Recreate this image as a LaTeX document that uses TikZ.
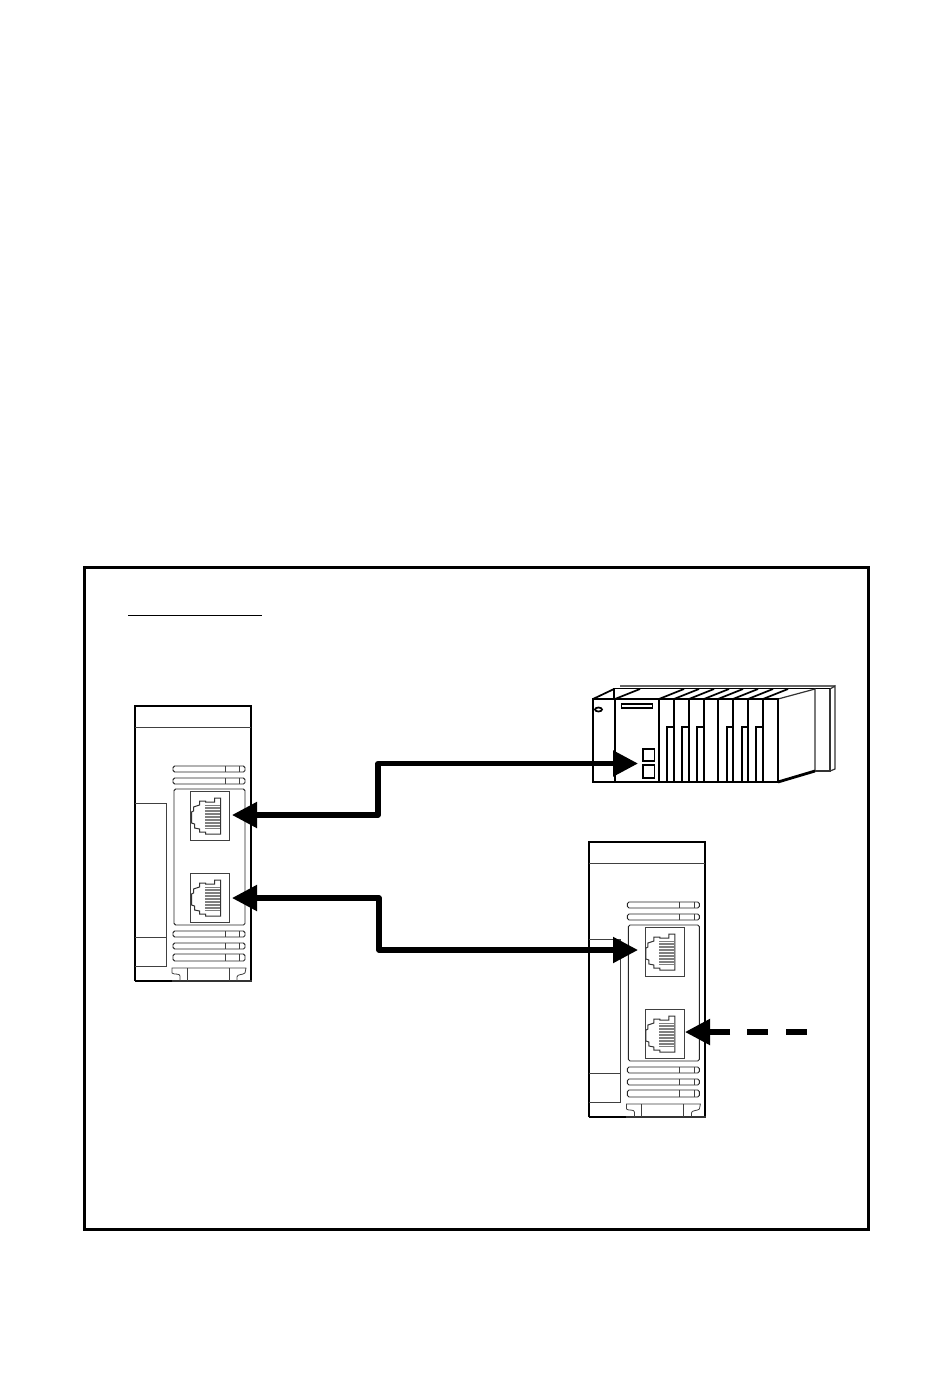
\documentclass[tikz,border=0pt]{standalone}
\usetikzlibrary{arrows.meta}
\tikzset{
  x=0.75pt,y=-0.75pt,
  frameline/.style={draw=black,line width=2.25pt},
  casing/.style={draw=black,line width=1.6pt,line join=miter},
  fineline/.style={draw=black!75,line width=0.6pt},
  slotline/.style={draw=black!85,line width=0.7pt,rounded corners=1.2pt},
  plcthick/.style={draw=black,line width=2.1pt},
  plcmid/.style={draw=black,line width=1.3pt},
  plcthin/.style={draw=black!80,line width=0.9pt},
  link/.style={draw=black,line width=3.9pt,line join=round,
    {Triangle[length=18.75pt,width=18.75pt]}-{Triangle[length=18.75pt,width=18.75pt]}},
  stublink/.style={draw=black,line width=3.9pt,-{Triangle[length=18.75pt,width=18.75pt]}},
  dashlink/.style={draw=black,line width=3.9pt},
}
% one RJ45 jack; #1 = vertical offset from the upper jack
\newcommand{\jackdraw}[1]{%
  \begin{scope}[shift={(0,#1)}]
    \draw[fineline] (190.5,791) rectangle (229.5,840);
    \draw[draw=black!80,line width=0.75pt] (220.5,798) -- (214.5,798) -- (214.5,802) -- (205.5,802) -- (205.5,801) -- (199.5,801)
      -- (199.5,805) -- (193.5,807) -- (193.5,811) -- (191.5,812) -- (191.5,823) -- (194.5,824)
      -- (194.5,828) -- (199.5,829) -- (199.5,832) -- (205.5,832) -- (205.5,834) -- (220.5,834) -- cycle;
    \fill[black!50] (204.5,805) rectangle (219.5,829);
    \foreach \yy in {806.5,809.5,812.5,815.5,818.5,821.5,824.5,827.5}
      \draw[white,line width=0.75pt] (204.5,\yy) -- (219.5,\yy);
  \end{scope}}
\newcommand{\slotdraw}[2]{%
  \draw[slotline] (173,#1) rectangle (245,#2);
  \draw[fineline] (225,#1) -- (225,#2);
  \draw[fineline] (239.5,#1) -- (239.5,#2);}
\newcommand{\moduledraw}[2]{%
  \begin{scope}[shift={(#1,#2)}]
    \draw[casing] (135,981) -- (135,706) -- (251,706) -- (251,981);
    \draw[line width=2pt,black] (135,981) -- (172,981);
    \draw[draw=black!80,line width=0.9pt] (172,981) -- (251.5,981);
    \draw[fineline] (135,727) -- (251,727);
    \slotdraw{766}{772}
    \slotdraw{778}{784}
    \draw[slotline] (174,789) rectangle (245,925);
    \draw[fineline] (135,803) -- (166,803) -- (166,966) -- (135,966);
    \draw[fineline] (135,937) -- (166,937);
    \jackdraw{0}
    \jackdraw{82}
    \slotdraw{931}{937}
    \slotdraw{943}{949}
    \slotdraw{954}{961}
    \draw[fineline] (172,973) -- (172,968) -- (246,968) -- (245,973);
    \draw[fineline] (172,973) .. controls (174,975) and (180,973) .. (180,976) -- (180,981);
    \draw[fineline] (245,973) .. controls (243,975) and (237,974) .. (237,977) -- (237,981);
    \draw[fineline] (187,968) -- (187,981);
    \draw[fineline] (229,968) -- (229,981);
  \end{scope}}
\begin{document}
\begin{tikzpicture}
\useasboundingbox (0,0) rectangle (950,1398);
\fill[white] (0,0) rectangle (950,1398);
% outer frame and heading rule
\node[frameline,draw,minimum width=587.7pt,minimum height=496.5pt,inner sep=0pt,outer sep=0pt,anchor=north west] (frame) at (84.5,567) {};
\draw[black,line width=1pt] (128,615.5) -- (262,615.5);
% modules
\moduledraw{0}{0}
\moduledraw{454.4}{136}
% PLC rack
\draw[draw=black!60,line width=1.5pt] (620,686) -- (835,686);
\draw[plcmid] (614,698) -- (614,688.5) -- (830,688.5);
\draw[plcthin] (778,699) -- (815,689) -- (815,771);
\draw[plcthick] (778,782) -- (815,771);
\draw[plcthin] (830,689) -- (830,771) -- (815,771);
\draw[plcthin] (830,689) -- (835,686) -- (835,769) -- (830,771);
\foreach \xa/\xb in {593/614,615/640,659/684,674/699,689/714,704/729,718/743,733/758,748/773,763/788}
  \draw[plcmid] (\xa,699) -- (\xb,689);
\draw[plcthick] (593,782) -- (593,699) -- (778,699) -- (778,782) -- cycle;
\foreach \xx in {615,659,674,689,704,718,733,748,763}
  \draw[plcthick] (\xx,699) -- (\xx,782);
\foreach \xa/\xb in {667/674,682/689,697/704,727/733,742/748,756/763}
  \draw[plcmid] (\xa,782) -- (\xa,727) -- (\xb,727);
\draw[plcmid] (598.5,709.5) ellipse (3.5 and 2);
\draw[plcmid] (621.5,704) rectangle (652.5,708);
\node[plcmid,draw,minimum width=8.8pt,minimum height=9.4pt,inner sep=0pt] (portA) at (648.5,755) {};
\node[plcmid,draw,minimum width=8.8pt,minimum height=9.4pt,inner sep=0pt] (portB) at (648.5,771.5) {};
% connectors
\coordinate (plcEnd) at (638,763.5);
\coordinate (modAup) at (232,815);
\coordinate (modAlow) at (232,898);
\coordinate (modBup) at (638,950);
\coordinate (modBlow) at (685,1032);
\coordinate (dashEnd) at (730,1032);
\coordinate (dash1a) at (747,1032);
\coordinate (dash1b) at (768,1032);
\coordinate (dash2a) at (786,1032);
\coordinate (dash2b) at (807,1032);
\draw[link] (modAup) -- (378,815) -- (378,763.5) -- (plcEnd);
\draw[link] (modAlow) -- (379,898) -- (379,950) -- (modBup);
\draw[stublink] (dashEnd) -- (modBlow);
\draw[dashlink] (dash1a) -- (dash1b);
\draw[dashlink] (dash2a) -- (dash2b);
\end{tikzpicture}
\end{document}
